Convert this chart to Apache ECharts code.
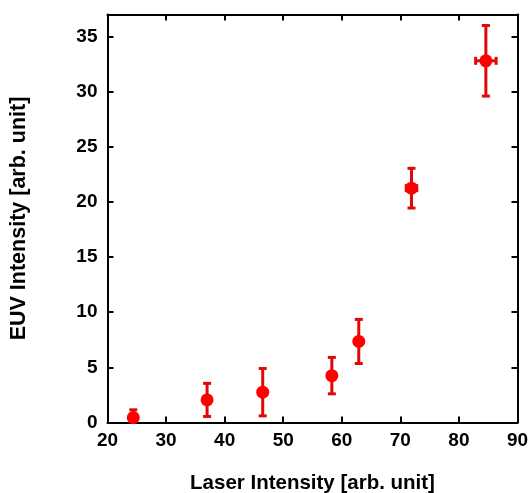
<!DOCTYPE html>
<html>
<head>
<meta charset="utf-8">
<script src="https://cdn.jsdelivr.net/npm/echarts@6/dist/echarts.min.js"></script>
<style>
html,body{margin:0;padding:0;background:#fff;}
#chart{width:528px;height:493px;}
</style>
</head>
<body>
<div id="chart"></div>
<script>
// Data
var laserIntensity = [24.4, 37.0, 46.5, 58.3, 62.9, 71.9, 84.6];
var euvIntensity   = [0.45, 2.05, 2.75, 4.25, 7.35, 21.25, 32.8];
var euvError       = [0.7, 1.5, 2.15, 1.65, 2.0, 1.8, 3.2];
var laserError     = [0, 0, 0, 0, 0, 0.9, 1.75];
var xTicks = [20, 30, 40, 50, 60, 70, 80, 90];
var yTicks = [0, 5, 10, 15, 20, 25, 30, 35];

var points = laserIntensity.map(function (x, i) { return [x, euvIntensity[i]]; });
var errData = laserIntensity.map(function (x, i) {
  return [x, euvIntensity[i], euvError[i], laserError[i]];
});

var chart = echarts.init(document.getElementById('chart'), null, {renderer: 'canvas'});
var FONT = '"Liberation Sans", Arial, sans-serif';
var lineCol = '#000';

function baseX(show) {
  return {
    type: 'value', min: xTicks[0], max: xTicks[xTicks.length - 1], interval: 10,
    position: show ? 'bottom' : 'top',
    axisLine: {show: true, onZero: false, lineStyle: {color: lineCol, width: 2}},
    axisTick: {show: true, inside: true, length: 6, lineStyle: {color: lineCol, width: 2}},
    axisLabel: {show: show, color: '#000', fontFamily: FONT, fontWeight: 'bold', fontSize: 19, margin: 9},
    splitLine: {show: false}
  };
}
function baseY(show) {
  return {
    type: 'value', min: 0, max: 37, interval: 5,
    position: show ? 'left' : 'right',
    axisLine: {show: true, onZero: false, lineStyle: {color: lineCol, width: 2}},
    axisTick: {show: true, inside: true, length: 6, lineStyle: {color: lineCol, width: 2}},
    axisLabel: {show: show, color: '#000', fontFamily: FONT, fontWeight: 'bold', fontSize: 19, margin: 10,
      formatter: function (v) { return yTicks.indexOf(v) >= 0 ? String(v) : ''; }},
    splitLine: {show: false}
  };
}

var xMain = baseX(true);
xMain.name = 'Laser Intensity [arb. unit]';
xMain.nameLocation = 'middle';
xMain.nameGap = 50;
xMain.nameTextStyle = {fontFamily: FONT, fontWeight: 'bold', fontSize: 20.5, color: '#000'};
var yMain = baseY(true);
yMain.name = 'EUV Intensity [arb. unit]';
yMain.nameLocation = 'middle';
yMain.nameGap = 77;
yMain.nameTextStyle = {fontFamily: FONT, fontWeight: 'bold', fontSize: 21.5, color: '#000'};

var errColor = '#e00808';
var cap = 4;

chart.setOption({
  animation: false,
  backgroundColor: '#fff',
  grid: {left: 107.5, right: 10.5, top: 14.5, bottom: 70.5, containLabel: false, outerBoundsMode: 'none'},
  xAxis: [xMain, baseX(false)],
  yAxis: [yMain, baseY(false)],
  series: [
    {
      type: 'custom',
      xAxisIndex: 0, yAxisIndex: 0,
      data: errData,
      renderItem: function (params, api) {
        var x = api.value(0), y = api.value(1), ey = api.value(2), ex = api.value(3);
        var c = api.coord([x, y]);
        var top = api.coord([x, y + ey]);
        var bot = api.coord([x, Math.max(0, y - ey)]);
        var style = {stroke: errColor, lineWidth: 3, fill: null};
        var children = [
          {type: 'line', shape: {x1: c[0], y1: top[1], x2: c[0], y2: bot[1]}, style: style},
          {type: 'line', shape: {x1: c[0] - cap, y1: top[1], x2: c[0] + cap, y2: top[1]}, style: style}
        ];
        if (y - ey > 0) {
          children.push({type: 'line', shape: {x1: c[0] - cap, y1: bot[1], x2: c[0] + cap, y2: bot[1]}, style: style});
        }
        if (ex > 0) {
          var l = api.coord([x - ex, y]), r = api.coord([x + ex, y]);
          children.push({type: 'line', shape: {x1: l[0], y1: c[1], x2: r[0], y2: c[1]}, style: style});
          children.push({type: 'line', shape: {x1: l[0], y1: c[1] - cap, x2: l[0], y2: c[1] + cap}, style: style});
          children.push({type: 'line', shape: {x1: r[0], y1: c[1] - cap, x2: r[0], y2: c[1] + cap}, style: style});
        }
        return {type: 'group', children: children};
      },
      z: 2
    },
    {
      type: 'scatter',
      xAxisIndex: 0, yAxisIndex: 0,
      data: points,
      symbol: 'circle',
      symbolSize: 13,
      itemStyle: {color: '#ff0000', opacity: 1},
      z: 3
    }
  ]
});
</script>
</body>
</html>
